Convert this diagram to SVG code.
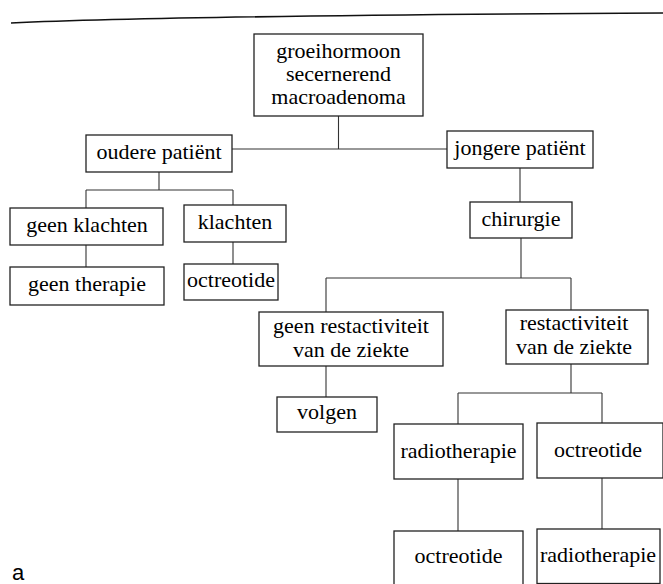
<svg xmlns="http://www.w3.org/2000/svg" width="663" height="584" viewBox="0 0 663 584">
<rect width="663" height="584" fill="#fff"/>
<path d="M11,23 C120,18 300,15 663,13" fill="none" stroke="#111" stroke-width="1.6"/>
<g id="connectors" fill="none" stroke="#333" stroke-width="1.1">
  <path d="M338.5,116 V149 M232,149 H447"/>
  <path d="M159,172 V190 M86,190 H233 M86,190 V208 M233,190 V205"/>
  <path d="M86,245 V267 M233,242 V264"/>
  <path d="M520,168 V202"/>
  <path d="M521,238 V278 M326,278 H571 M326,278 V312 M571,278 V310"/>
  <path d="M326,366 V397"/>
  <path d="M571,364 V393 M458,393 H602 M458,393 V424 M602,393 V423"/>
  <path d="M458,479 V531 M602,478 V529"/>
</g>
<g id="n_root"><rect x="254" y="34" width="169" height="82" fill="#fff" stroke="#222" stroke-width="1.3"/>
<text x="338.5" y="58" font-family="Liberation Serif" font-size="22" text-anchor="middle">groeihormoon</text>
<text x="338.5" y="81" font-family="Liberation Serif" font-size="22" text-anchor="middle">secernerend</text>
<text x="338.5" y="104" font-family="Liberation Serif" font-size="22" text-anchor="middle">macroadenoma</text></g>
<g id="n_oudere"><rect x="86" y="135" width="146" height="37" fill="#fff" stroke="#222" stroke-width="1.3"/>
<text x="159" y="159" font-family="Liberation Serif" font-size="22" text-anchor="middle">oudere pati&#235;nt</text></g>
<g id="n_jongere"><rect x="447" y="131" width="146" height="37" fill="#fff" stroke="#222" stroke-width="1.3"/>
<text x="520" y="155" font-family="Liberation Serif" font-size="22" text-anchor="middle">jongere pati&#235;nt</text></g>
<g id="n_geen_klachten"><rect x="10" y="208" width="153" height="37" fill="#fff" stroke="#222" stroke-width="1.3"/>
<text x="87" y="232" font-family="Liberation Serif" font-size="22" text-anchor="middle">geen klachten</text></g>
<g id="n_klachten"><rect x="184" y="205" width="102" height="37" fill="#fff" stroke="#222" stroke-width="1.3"/>
<text x="235" y="229" font-family="Liberation Serif" font-size="22" text-anchor="middle">klachten</text></g>
<g id="n_geen_therapie"><rect x="10" y="267" width="154" height="38" fill="#fff" stroke="#222" stroke-width="1.3"/>
<text x="87" y="291" font-family="Liberation Serif" font-size="22" text-anchor="middle">geen therapie</text></g>
<g id="n_octreotide_1"><rect x="184" y="264" width="94" height="36" fill="#fff" stroke="#222" stroke-width="1.3"/>
<text x="231" y="287" font-family="Liberation Serif" font-size="22" text-anchor="middle">octreotide</text></g>
<g id="n_chirurgie"><rect x="470" y="202" width="102" height="36" fill="#fff" stroke="#222" stroke-width="1.3"/>
<text x="521" y="226" font-family="Liberation Serif" font-size="22" text-anchor="middle">chirurgie</text></g>
<g id="n_geen_rest"><rect x="259" y="312" width="184" height="54" fill="#fff" stroke="#222" stroke-width="1.3"/>
<text x="351" y="333" font-family="Liberation Serif" font-size="22" text-anchor="middle">geen restactiviteit</text>
<text x="351" y="357" font-family="Liberation Serif" font-size="22" text-anchor="middle">van de ziekte</text></g>
<g id="n_rest"><rect x="506" y="310" width="142" height="54" fill="#fff" stroke="#222" stroke-width="1.3"/>
<text x="574" y="330" font-family="Liberation Serif" font-size="22" text-anchor="middle">restactiviteit</text>
<text x="574" y="354" font-family="Liberation Serif" font-size="22" text-anchor="middle">van de ziekte</text></g>
<g id="n_volgen"><rect x="277" y="397" width="100" height="35" fill="#fff" stroke="#222" stroke-width="1.3"/>
<text x="327" y="419" font-family="Liberation Serif" font-size="22" text-anchor="middle">volgen</text></g>
<g id="n_radio_1"><rect x="394" y="424" width="129" height="55" fill="#fff" stroke="#222" stroke-width="1.3"/>
<text x="458.5" y="458" font-family="Liberation Serif" font-size="22" text-anchor="middle">radiotherapie</text></g>
<g id="n_octreotide_2"><rect x="537" y="423" width="126" height="55" fill="#fff" stroke="#222" stroke-width="1.3"/>
<text x="598" y="457" font-family="Liberation Serif" font-size="22" text-anchor="middle">octreotide</text></g>
<g id="n_octreotide_3"><rect x="394" y="531" width="129" height="60" fill="#fff" stroke="#222" stroke-width="1.3"/>
<text x="458.5" y="563" font-family="Liberation Serif" font-size="22" text-anchor="middle">octreotide</text></g>
<g id="n_radio_2"><rect x="537" y="529" width="123" height="54.5" fill="#fff" stroke="#222" stroke-width="1.3"/>
<text x="598" y="562" font-family="Liberation Serif" font-size="22" text-anchor="middle">radiotherapie</text></g>
<text x="12" y="580" font-family="Liberation Sans" font-size="22">a</text>
</svg>
